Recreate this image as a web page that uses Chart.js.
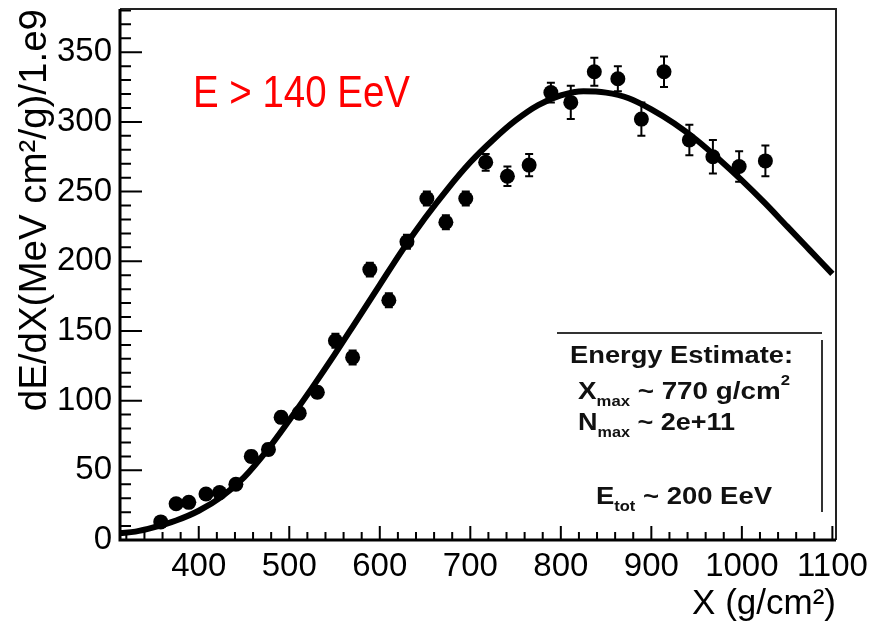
<!DOCTYPE html>
<html>
<head>
<meta charset="UTF-8">
<title>dE/dX profile</title>
<script src="https://cdn.jsdelivr.net/npm/chart.js@4.4.0/dist/chart.umd.min.js"></script>
<style>
    html, body { margin: 0; padding: 0; background: #fff; }
    .wrap { width: 872px; height: 628px; position: relative; }
</style>
</head>
<body>
<div class="wrap"><canvas id="profile" width="872" height="628"></canvas></div>
<script>
// measured points: slant depth (g/cm2), dE/dX and its error
const depth = [358, 375, 389, 408, 423, 441, 458, 477, 491, 511, 531, 551, 570, 589, 610, 630,
               652, 673, 695, 717, 741, 765, 789, 811, 837, 863, 889, 914, 942, 968, 997, 1026];
const dedx = [13, 26, 27, 33, 34, 40, 60, 65, 88, 91, 106, 143, 131, 194, 172, 214,
              245, 228, 245, 271, 261, 269, 321, 314, 336, 331, 302, 336, 287, 275, 268, 272];
const dedxErr = [3, 3, 3, 3, 3, 3, 4, 4, 4, 4, 4, 5, 5, 5, 5, 5,
                 5, 5, 5, 6, 7, 8, 7, 12, 10, 9, 12, 11, 11, 12, 11, 11];

// fitted shower profile
const fitDepth = [313, 330, 350, 375, 400, 425, 450, 475, 500, 525, 550, 575, 600, 625, 650, 675, 700,
                  725, 750, 775, 800, 825, 850, 875, 900, 925, 950, 975, 1000, 1025, 1050, 1075, 1100];
const fitDedx = [5, 6, 9, 14, 21, 31, 45, 64, 86, 109, 133, 158, 183, 208, 231, 252, 271,
                 287, 301, 312, 319, 322, 321, 317, 309, 299, 287, 273, 258, 242, 225, 208, 191];

const xTicks = [400, 500, 600, 700, 800, 900, 1000, 1100];
const yTicks = [0, 50, 100, 150, 200, 250, 300, 350];
const xMinorStep = 20;
const yMinorStep = 10;

const FONT = "'Liberation Sans', Arial, Helvetica, sans-serif";

// draws text runs (with sub/superscripts) squeezed or stretched to a given width
function drawRuns(ctx, runs, x, y, width, size, weight) {
    const pieces = runs.map(r => {
        const fs = r.sub || r.sup ? size * 0.6 : size;
        ctx.font = weight + ' ' + fs + 'px ' + FONT;
        return { t: r.t, font: ctx.font, w: ctx.measureText(r.t).width,
                 dy: r.sub ? size * 0.32 : (r.sup ? -size * 0.62 : 0) };
    });
    const total = pieces.reduce((s, p) => s + p.w, 0);
    ctx.save();
    ctx.translate(x, y);
    ctx.scale(width / total, 1);
    ctx.textBaseline = 'alphabetic';
    ctx.textAlign = 'left';
    let cx = 0;
    pieces.forEach(p => {
        ctx.font = p.font;
        ctx.fillText(p.t, cx, p.dy);
        cx += p.w;
    });
    ctx.restore();
}

const frameAndTicks = {
    id: 'frameAndTicks',
    beforeDatasetsDraw(chart) {
        const { ctx, chartArea: a, scales: { x, y } } = chart;
        ctx.save();
        ctx.lineCap = 'butt';

        // inward ticks on the left and bottom axes
        ctx.strokeStyle = '#000';
        ctx.lineWidth = 2;
        ctx.beginPath();
        for (let v = 0; v <= y.max; v += yMinorStep) {
            const py = y.getPixelForValue(v);
            const len = yTicks.includes(v) ? 22 : 11;
            ctx.moveTo(a.left, py);
            ctx.lineTo(a.left + len, py);
        }
        for (let v = Math.ceil(x.min / xMinorStep) * xMinorStep; v <= x.max; v += xMinorStep) {
            const px = x.getPixelForValue(v);
            const len = xTicks.includes(v) ? 14 : 8;
            ctx.moveTo(px, a.bottom);
            ctx.lineTo(px, a.bottom - len);
        }
        ctx.stroke();

        // frame
        ctx.strokeStyle = '#222';
        ctx.lineWidth = 2;
        ctx.beginPath();
        ctx.moveTo(a.left, a.top);
        ctx.lineTo(a.right, a.top);
        ctx.lineTo(a.right, a.bottom);
        ctx.stroke();
        ctx.strokeStyle = '#000';
        ctx.lineWidth = 3;
        ctx.beginPath();
        ctx.moveTo(a.left, a.top);
        ctx.lineTo(a.left, a.bottom);
        ctx.lineTo(a.right, a.bottom);
        ctx.stroke();

        // error bars with caps
        ctx.lineWidth = 2;
        ctx.beginPath();
        depth.forEach((d, i) => {
            const px = x.getPixelForValue(d);
            const top = y.getPixelForValue(dedx[i] + dedxErr[i]);
            const bot = y.getPixelForValue(dedx[i] - dedxErr[i]);
            ctx.moveTo(px, top);
            ctx.lineTo(px, bot);
            ctx.moveTo(px - 4, top);
            ctx.lineTo(px + 4, top);
            ctx.moveTo(px - 4, bot);
            ctx.lineTo(px + 4, bot);
        });
        ctx.stroke();
        ctx.restore();
    },
    afterDraw(chart) {
        const { ctx } = chart;
        ctx.save();

        ctx.fillStyle = '#ff0000';
        drawRuns(ctx, [{ t: 'E > 140 EeV' }], 193, 107, 217, 44, 'normal');

        // energy estimate box
        ctx.strokeStyle = '#333';
        ctx.lineWidth = 2;
        ctx.beginPath();
        ctx.moveTo(557, 333);
        ctx.lineTo(822, 333);
        ctx.moveTo(822, 340);
        ctx.lineTo(822, 512);
        ctx.stroke();

        ctx.fillStyle = '#111';
        drawRuns(ctx, [{ t: 'Energy Estimate:' }], 570, 363, 223, 23, 'bold');
        drawRuns(ctx, [{ t: 'X' }, { t: 'max', sub: true }, { t: ' ~ 770 g/cm' }, { t: '2', sup: true }],
                 578, 399, 212, 23, 'bold');
        drawRuns(ctx, [{ t: 'N' }, { t: 'max', sub: true }, { t: ' ~ 2e+11' }], 578, 430, 157, 23, 'bold');
        drawRuns(ctx, [{ t: 'E' }, { t: 'tot', sub: true }, { t: ' ~ 200 EeV' }], 596, 504, 176, 23, 'bold');
        ctx.restore();
    }
};

const ctx = document.getElementById('profile').getContext('2d');
new Chart(ctx, {
    type: 'scatter',
    data: {
        datasets: [
            {
                label: 'data',
                data: depth.map((d, i) => ({ x: d, y: dedx[i] })),
                backgroundColor: '#000',
                borderColor: '#000',
                borderWidth: 0,
                pointRadius: 7.5,
                pointHoverRadius: 7.5,
                showLine: false
            },
            {
                label: 'fit',
                type: 'line',
                data: fitDepth.map((d, i) => ({ x: d, y: fitDedx[i] })),
                borderColor: '#000',
                borderWidth: 6,
                pointRadius: 0,
                cubicInterpolationMode: 'monotone',
                fill: false
            }
        ]
    },
    options: {
        responsive: false,
        animation: false,
        devicePixelRatio: 1,
        layout: { padding: { left: 0, top: 9, right: 36, bottom: 0 } },
        plugins: {
            legend: { display: false },
            tooltip: { enabled: false }
        },
        scales: {
            x: {
                type: 'linear',
                min: 313,
                max: 1104,
                grid: { display: false, drawTicks: false },
                border: { display: false },
                afterBuildTicks: s => { s.ticks = xTicks.map(v => ({ value: v })); },
                afterFit: s => { s.height = 88; s.paddingLeft = 0; s.paddingRight = 0; },
                ticks: {
                    autoSkip: false,
                    maxRotation: 0,
                    minRotation: 0,
                    padding: 7,
                    color: '#000',
                    callback: v => String(v),
                    font: { family: FONT, size: 33 }
                },
                title: {
                    display: true,
                    text: 'X (g/cm²)',
                    align: 'end',
                    color: '#000',
                    padding: { top: 0, bottom: 3 },
                    font: { family: FONT, size: 35 }
                }
            },
            y: {
                type: 'linear',
                min: 0,
                max: 381,
                grid: { display: false, drawTicks: false },
                border: { display: false },
                afterBuildTicks: s => { s.ticks = yTicks.map(v => ({ value: v })); },
                afterFit: s => { s.width = 120; s.paddingTop = 0; s.paddingBottom = 0; },
                ticks: {
                    autoSkip: false,
                    padding: 8,
                    color: '#000',
                    callback: v => String(v),
                    font: { family: FONT, size: 33 }
                },
                title: {
                    display: true,
                    text: 'dE/dX(MeV cm²/g)/1.e9',
                    align: 'end',
                    color: '#000',
                    padding: { top: 12, bottom: 0 },
                    font: { family: FONT, size: 38.5 }
                }
            }
        }
    },
    plugins: [frameAndTicks]
});
</script>
</body>
</html>
